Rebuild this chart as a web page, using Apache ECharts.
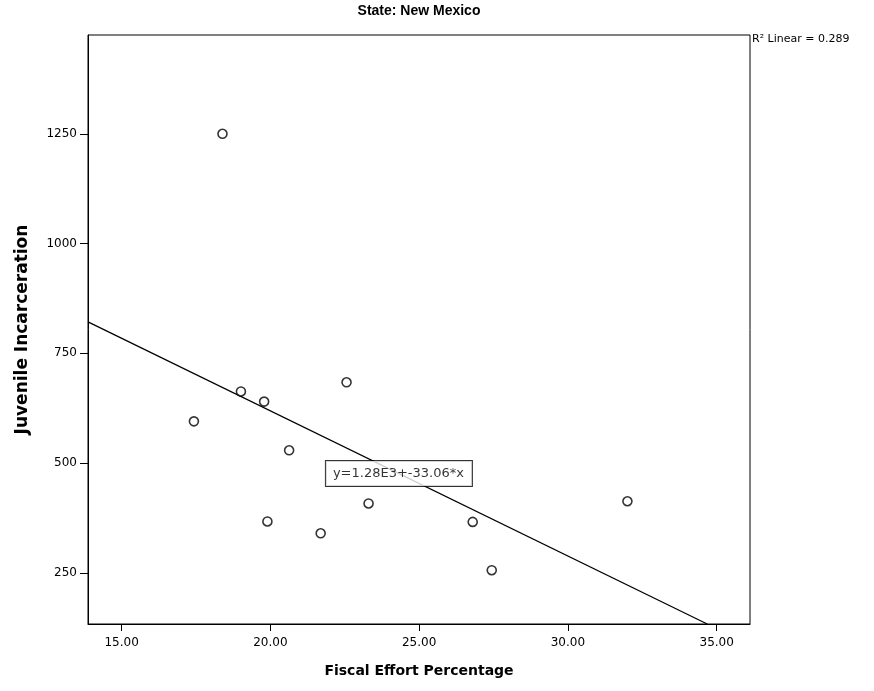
<!DOCTYPE html>
<html>
<head>
<meta charset="utf-8">
<script src="https://cdn.jsdelivr.net/npm/echarts@6/dist/echarts.min.js"></script>
<style>html,body{margin:0;padding:0;background:#fff}#c{width:874px;height:691px}</style>
</head>
<body>
<div id="c"></div>
<script>
// ---- data ----
const titleText = 'State: New Mexico';
const xName = 'Fiscal Effort Percentage';
const yName = 'Juvenile Incarceration';
const fiscalEffort = [18.39, 17.43, 19.01, 19.79, 20.63, 19.90, 22.56, 21.69, 23.30, 26.80, 27.44, 32.00];
const incarceration = [1250, 595, 663, 640, 529, 367, 684, 340, 408, 366, 256, 413];
const xTicks = [15, 20, 25, 30, 35];
const yTicks = [250, 500, 750, 1000, 1250];
const xRange = [13.87, 36.12];
const yRange = [133.4, 1475];
const fitIntercept = 1280;
const fitSlope = -33.06;
const eqText = 'y=1.28E3+-33.06*x';
const eqPosX = 24.32;
const r2Text = 'R\u00B2 Linear = 0.289';

const points = fiscalEffort.map((x, i) => [x, incarceration[i]]);
const fitStart = [xRange[0], fitIntercept + fitSlope * xRange[0]];
const xEnd = (yRange[0] - fitIntercept) / fitSlope;
const fitEnd = [xEnd, yRange[0]];
const eqPoint = [eqPosX, fitIntercept + fitSlope * eqPosX];

const chart = echarts.init(document.getElementById('c'));
const tickFont = { fontFamily: '"DejaVu Sans", sans-serif', fontSize: 12, color: '#000' };
chart.setOption({
  animation: false,
  backgroundColor: '#fff',
  grid: { left: 88, top: 35, right: 124, bottom: 67, show: true, borderColor: '#000', borderWidth: 1, backgroundColor: 'transparent' },
  graphic: [
    { type: 'text', x: 419, y: 4, style: { text: titleText, align: 'center', font: 'bold 14px "Liberation Sans", Arial, sans-serif', fill: '#000' } },
    { type: 'text', x: 752, y: 34, style: { text: r2Text, font: '11px "DejaVu Sans", sans-serif', fill: '#000' } }
  ],
  xAxis: {
    type: 'value', min: xRange[0], max: xRange[1],
    name: xName, nameLocation: 'middle', nameGap: 40,
    nameTextStyle: { fontFamily: '"DejaVu Sans", sans-serif', fontWeight: 'bold', fontSize: 14, color: '#000' },
    axisLine: { show: true, lineStyle: { color: '#000', width: 1 } },
    axisTick: { show: true, length: 7, lineStyle: { color: '#000' }, customValues: xTicks },
    axisLabel: Object.assign({ customValues: xTicks, margin: 13, formatter: v => v.toFixed(2) }, tickFont),
    splitLine: { show: false }
  },
  yAxis: {
    type: 'value', min: yRange[0], max: yRange[1],
    name: yName, nameLocation: 'middle', nameGap: 57,
    nameTextStyle: { fontFamily: '"DejaVu Sans", sans-serif', fontWeight: 'bold', fontSize: 17, color: '#000' },
    axisLine: { show: true, lineStyle: { color: '#000', width: 1 } },
    axisTick: { show: true, length: 8, lineStyle: { color: '#000' }, customValues: yTicks },
    axisLabel: Object.assign({ customValues: yTicks, margin: 11, formatter: v => String(v) }, tickFont),
    splitLine: { show: false }
  },
  series: [
    {
      type: 'line', data: [fitStart, fitEnd], symbol: 'none',
      lineStyle: { color: '#000', width: 1.3 }, z: 2
    },
    {
      type: 'scatter', data: points, symbol: 'circle', symbolSize: 9,
      itemStyle: { color: '#fff', borderColor: '#000', borderWidth: 1.6 }, z: 3
    },
    {
      type: 'scatter', data: [eqPoint], symbolSize: 0, z: 4,
      label: {
        show: true, position: 'inside', formatter: eqText,
        fontFamily: '"DejaVu Sans", sans-serif', fontSize: 13, color: '#000',
        backgroundColor: '#fff', borderColor: '#000', borderWidth: 1, padding: [6, 8, 6, 7]
      }
    }
  ]
});
</script>
</body>
</html>
